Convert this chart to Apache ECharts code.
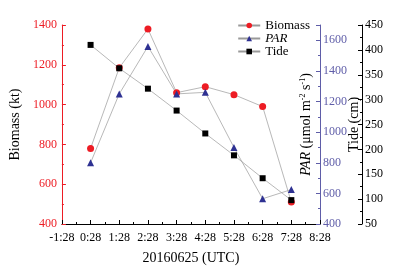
<!doctype html>
<html>
<head>
<meta charset="UTF-8">
<title>Biomass PAR Tide</title>
<script src="https://cdn.jsdelivr.net/npm/echarts@6/dist/echarts.min.js"></script>
<style>
  html, body { margin: 0; padding: 0; background: #fff; }
  #main { width: 399px; height: 270px; }
</style>
</head>
<body>
<div id="main"></div>
<script>
// hours after 0:28 (UTC, 20160625)
var hours = [0, 1, 2, 3, 4, 5, 6, 7];
var biomass = [780, 1185, 1380, 1060, 1090, 1050, 990, 510];
var par = [800, 1250, 1560, 1250, 1260, 900, 565, 625];
var tide = [410, 363, 322, 278, 232, 188, 142, 98];

function pairs(ys) {
    return hours.map(function (h, i) { return [h, ys[i]]; });
}

var font = 'Liberation Serif';
var red = '#ed1c24';
var blue = '#5f5da8';
var navy = '#2e3192';

function plain(v) { return String(v); }

var myChart = echarts.init(document.getElementById('main'), null, { renderer: 'canvas' });
var option = {
    backgroundColor: '#fff',
    textStyle: { fontFamily: font },
    grid: { left: 49, right: 79, top: 25, bottom: 42 },
    legend: {
        orient: 'vertical',
        right: 84,
        top: 14,
        itemGap: 0,
        itemWidth: 22,
        itemHeight: 7,
        textStyle: {
            fontFamily: font, fontSize: 13, color: '#000',
            rich: { i: { fontFamily: font, fontSize: 13, fontStyle: 'italic' } }
        },
        formatter: function (n) { return n === 'PAR' ? '{i|PAR}' : n; },
        data: ['Biomass', 'PAR', 'Tide']
    },
    xAxis: {
        type: 'value',
        min: -1, max: 8, interval: 1,
        name: '20160625 (UTC)',
        nameLocation: 'middle',
        nameGap: 27,
        nameTextStyle: { fontFamily: font, fontSize: 14, color: '#000' },
        axisLine: { onZero: false, lineStyle: { color: '#000', width: 1 } },
        axisTick: { inside: true, length: 4, lineStyle: { color: '#000' } },
        minorTick: { show: true, splitNumber: 2, length: 2, lineStyle: { color: '#000' } },
        axisLabel: {
            fontFamily: font, fontSize: 12, color: '#000', margin: 8,
            formatter: function (v) { return v + ':28'; }
        },
        splitLine: { show: false }
    },
    yAxis: [
        {
            type: 'value', position: 'left',
            min: 400, max: 1400, interval: 200,
            name: 'Biomass (kt)',
            nameLocation: 'middle', nameGap: 32,
            nameTextStyle: { fontFamily: font, fontSize: 14, color: '#000' },
            axisLine: { show: true, onZero: false, lineStyle: { color: red } },
            axisTick: { inside: true, length: 4, lineStyle: { color: red } },
            minorTick: { show: true, splitNumber: 2, length: 2, lineStyle: { color: red } },
            axisLabel: { fontFamily: font, fontSize: 12, color: red, margin: 5, formatter: plain },
            splitLine: { show: false }
        },
        {
            type: 'value', position: 'right',
            min: 400, max: 1700, interval: 200,
            name: '{i|PAR} (μmol m{s|-2} s{s|-1})',
            nameLocation: 'middle', nameGap: -21, nameRotate: 90,
            nameMoveOverlap: false,
            nameTextStyle: {
                fontFamily: font, fontSize: 14, color: '#000',
                rich: {
                    i: { fontFamily: font, fontSize: 14, fontStyle: 'italic', color: '#000' },
                    s: { fontFamily: font, fontSize: 8, color: '#000', verticalAlign: 'top' }
                }
            },
            axisLine: { show: true, onZero: false, lineStyle: { color: blue } },
            axisTick: { inside: true, length: 4, lineStyle: { color: blue } },
            minorTick: { show: true, splitNumber: 2, length: 2, lineStyle: { color: blue } },
            axisLabel: {
                fontFamily: font, fontSize: 12, color: blue, margin: 3,
                formatter: function (v) { return v > 1600 ? '' : String(v); }
            },
            splitLine: { show: false }
        },
        {
            type: 'value', position: 'right', offset: 42,
            min: 50, max: 450, interval: 50,
            name: 'Tide (cm)',
            nameLocation: 'middle', nameGap: -15, nameRotate: 90,
            nameMoveOverlap: false,
            nameTextStyle: { fontFamily: font, fontSize: 14, color: '#000' },
            axisLine: { show: true, onZero: false, lineStyle: { color: '#000' } },
            axisTick: { inside: true, length: 4, lineStyle: { color: '#000' } },
            minorTick: { show: true, splitNumber: 2, length: 2, lineStyle: { color: '#000' } },
            axisLabel: { fontFamily: font, fontSize: 12, color: '#000', margin: 3, formatter: plain },
            splitLine: { show: false }
        }
    ],
    series: [
        {
            name: 'Biomass', type: 'line', yAxisIndex: 0,
            data: pairs(biomass),
            symbol: 'circle', symbolSize: 7,
            itemStyle: { color: red },
            lineStyle: { color: '#999', width: 0.7 }
        },
        {
            name: 'PAR', type: 'line', yAxisIndex: 1,
            data: pairs(par),
            symbol: 'triangle', symbolSize: 7,
            itemStyle: { color: navy },
            lineStyle: { color: '#999', width: 0.7 }
        },
        {
            name: 'Tide', type: 'line', yAxisIndex: 2,
            data: pairs(tide),
            symbol: 'rect', symbolSize: 6,
            itemStyle: { color: '#000' },
            lineStyle: { color: '#999', width: 0.7 }
        }
    ]
};
myChart.setOption(option);
</script>
</body>
</html>
